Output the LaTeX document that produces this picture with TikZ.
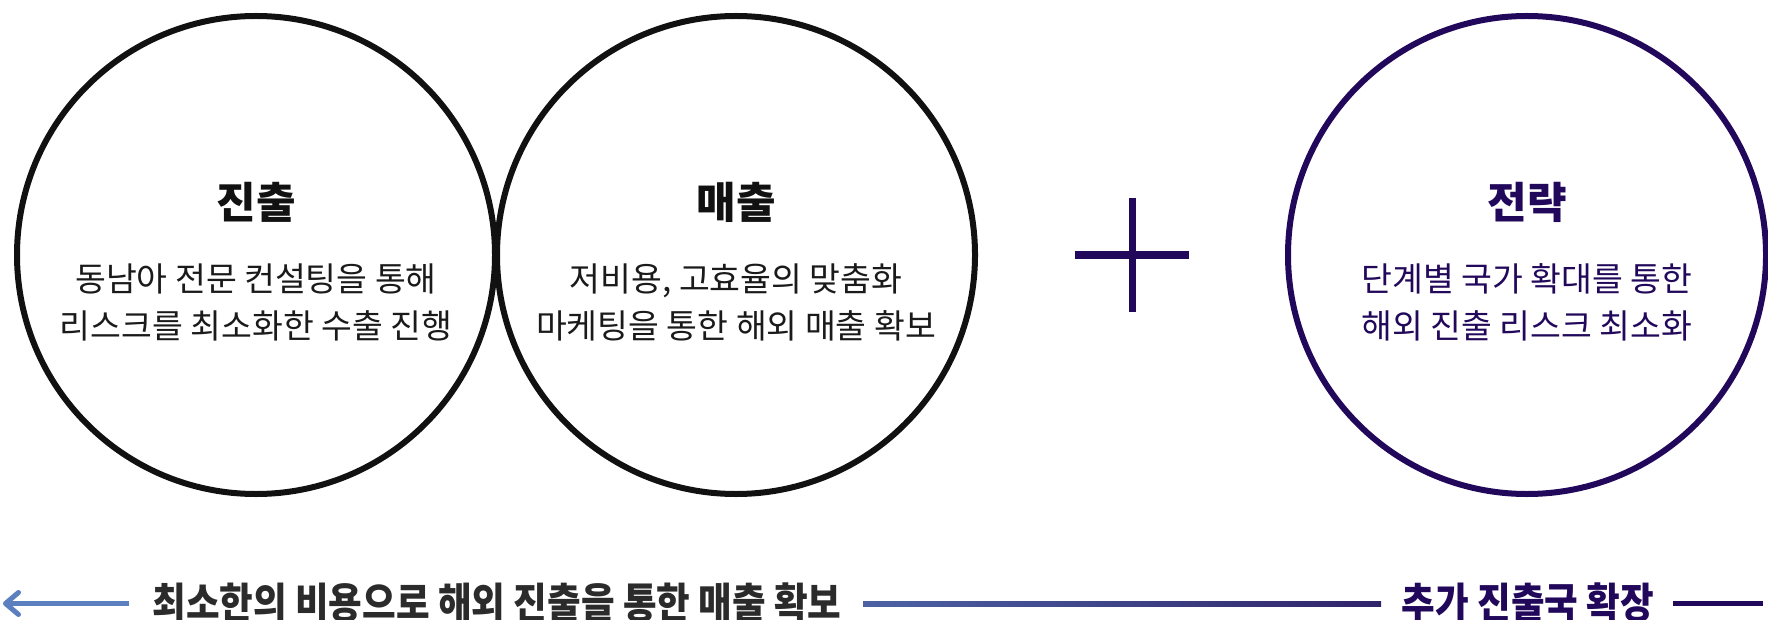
\documentclass[tikz,border=0pt]{standalone}
\usepackage{fontspec}
\usetikzlibrary{arrows.meta,calc}
\newfontfamily\kr{Noto Sans CJK KR}
\newfontfamily\krc[FakeStretch=0.87]{Noto Sans CJK KR}
\definecolor{ink}{HTML}{111111}
\definecolor{bodyink}{HTML}{1A1A1A}
\definecolor{purp}{HTML}{22085A}
\definecolor{btmink}{HTML}{2B2B2B}
\definecolor{arrowL}{HTML}{5B7FBF}
\definecolor{gradA}{HTML}{4C62A4}
\definecolor{gradB}{HTML}{30236A}
\begin{document}
\begin{tikzpicture}[x=1pt,y=-1pt,
  ring/.style={circle, draw=#1, line width=6pt, minimum size=478pt, inner sep=0pt},
  ttl/.style={anchor=base, inner sep=0pt, font=\kr\bfseries\fontsize{43}{43}\selectfont},
  bodytext/.style={anchor=base, inner sep=0pt, font=\kr\fontsize{33.5}{33.5}\selectfont},
  btm/.style={anchor=base, inner sep=0pt, font=\krc\bfseries\fontsize{42}{42}\selectfont},
  bar/.style={line width=5pt},
  plusbar/.style={line width=7pt, draw=purp}
]
\useasboundingbox (0,0) rectangle (1768,620);

% circles
\node[ring=ink] (c1) at (256,255) {};
\node[ring=ink] (c2) at (736,255) {};
\node[ring=purp] (c3) at (1527,255) {};

% texts in circles
\node[ttl, text=ink] (t1) at (256,219) {진출};
\node[bodytext, text=bodyink] (b1a) at (256,291) {동남아 전문 컨설팅을 통해};
\node[bodytext, text=bodyink] (b1b) at (256,338) {리스크를 최소화한 수출 진행};

\node[ttl, text=ink] (t2) at (736,219) {매출};
\node[bodytext, text=bodyink] (b2a) at (736,291) {저비용, 고효율의 맞춤화};
\node[bodytext, text=bodyink] (b2b) at (736,338) {마케팅을 통한 해외 매출 확보};

\node[ttl, text=purp] (t3) at (1527,219) {전략};
\node[bodytext, text=purp] (b3a) at (1527,291) {단계별 국가 확대를 통한};
\node[bodytext, text=purp] (b3b) at (1527,338) {해외 진출 리스크 최소화};

% plus sign
\coordinate (pc) at (1132,255);
\draw[plusbar] ($(pc)+(-57,0)$) -- ($(pc)+(57,0)$);
\draw[plusbar] ($(pc)+(0,-57)$) -- ($(pc)+(0,57)$);

% bottom texts
\node[btm, text=btmink] (bl) at (497,618) {최소한의 비용으로 해외 진출을 통한 매출 확보};
\node[btm, text=purp] (br) at (1528,618) {추가 진출국 확장};

% bottom lines
\coordinate (la1) at (129,603.5);
\coordinate (la0) at (3,603.5);
\draw[bar, draw=arrowL, -{Straight Barb[length=13pt,width=22pt,round]}] (la1) -- (la0);

\coordinate (m0) at (863,601);
\coordinate (m1) at (1381,606);
\shade[left color=gradA, right color=gradB] (m0) rectangle (m1);

\coordinate (r0) at (1673,603.5);
\coordinate (r1) at (1763,603.5);
\draw[bar, draw=purp] (r0) -- (r1);
\end{tikzpicture}
\end{document}
